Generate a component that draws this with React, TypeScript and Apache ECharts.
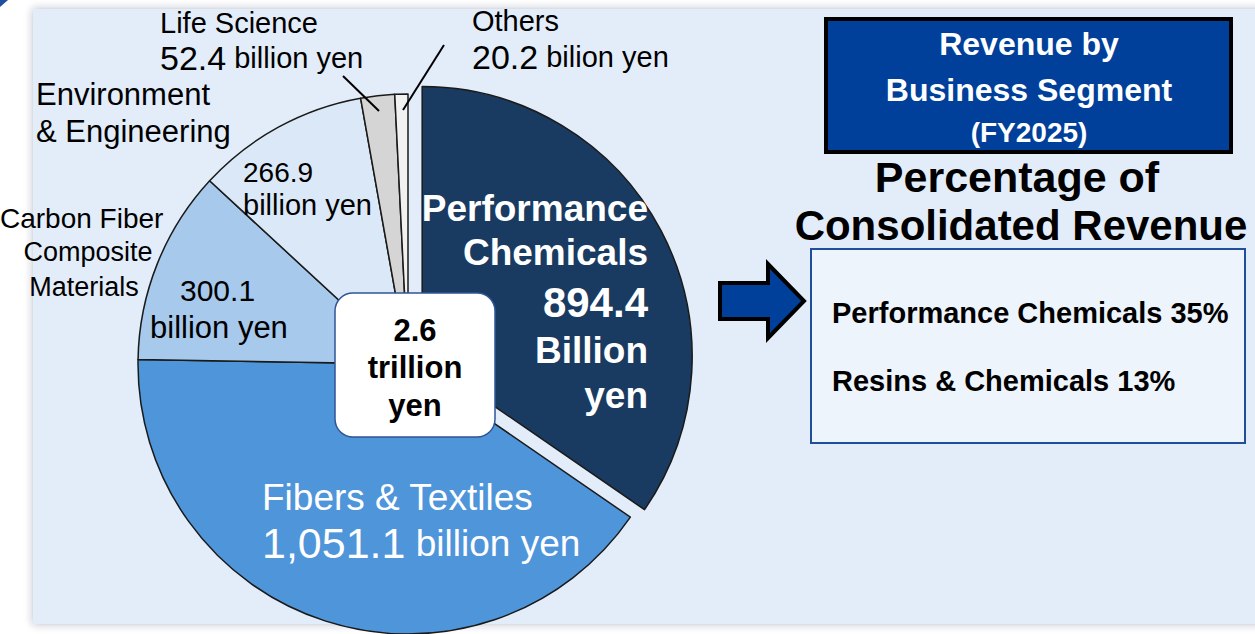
import React, { useEffect, useRef } from "react";
import * as echarts from "echarts";

const segments = [
  "Performance Chemicals",
  "Fibers & Textiles",
  "Carbon Fiber Composite Materials",
  "Environment & Engineering",
  "Life Science",
  "Others",
];
const revenues = [894.4, 1051.1, 300.1, 266.9, 52.4, 20.2];
const sliceColors = ["#193b62", "#4f95da", "#a7c9eb", "#dbe8f7", "#d5d5d5", "#f1f1f1"];
const shareNames = ["Performance Chemicals", "Resins & Chemicals"];
const shareValues = [35, 13];
const fiscalYear = "FY2025";

const FONT = "'Liberation Sans', Arial, Helvetica, sans-serif";

function fmt(v: number) {
  return v.toLocaleString("en-US", { minimumFractionDigits: 1, maximumFractionDigits: 1 });
}

function txt(text: string, x: number, y: number, size: number, opts: any = {}) {
  return {
    type: "text",
    z: 20,
    x,
    y,
    style: {
      text,
      fontSize: size,
      fontFamily: FONT,
      fontWeight: opts.bold ? "bold" : "normal",
      fill: opts.color || "#000",
      textAlign: opts.align || "left",
      textVerticalAlign: "middle",
      rich: opts.rich,
    },
  };
}

export default function App() {
  const ref = useRef<HTMLDivElement>(null);
  useEffect(() => {
    document.body.style.margin = "0";
    const chart = echarts.init(ref.current!, undefined, { renderer: "svg" });
    const total = revenues.reduce((a, b) => a + b, 0);
    const graphic: any[] = [
      {
        type: "rect",
        z: 0,
        shape: { x: 33, y: 9, width: 1240, height: 615 },
        style: { fill: "#e3edfa", shadowBlur: 8, shadowColor: "rgba(40,50,90,0.35)" },
      },
      { type: "polygon", z: 1, shape: { points: [[0, 0], [8, 0], [0, 7]] }, style: { fill: "#1f4fa0" } },
      // leader lines
      { type: "line", z: 20, shape: { x1: 343, y1: 76, x2: 379, y2: 111 }, style: { stroke: "#000", lineWidth: 2 } },
      { type: "line", z: 20, shape: { x1: 444, y1: 45, x2: 403, y2: 110 }, style: { stroke: "#000", lineWidth: 2 } },
      // outside labels
      txt(segments[4], 160, 23, 29),
      txt(`{n|${fmt(revenues[4])}} billion yen`, 160, 58, 29, { rich: { n: { fontSize: 34, fontFamily: FONT } } }),
      txt(segments[5], 472, 21, 29),
      txt(`{n|${fmt(revenues[5])}} bilion yen`, 472, 57, 29, { rich: { n: { fontSize: 34, fontFamily: FONT } } }),
      txt("Environment", 36, 94, 31),
      txt("& Engineering", 36, 131, 31),
      txt(fmt(revenues[3]), 243, 172, 28),
      txt("billion yen", 243, 205, 29),
      txt("Carbon Fiber", 0, 218, 28),
      txt("Composite", 88, 252, 27, { align: "center" }),
      txt("Materials", 84, 287, 27, { align: "center" }),
      txt(fmt(revenues[2]), 180, 290, 30),
      txt("billion yen", 150, 327, 31),
      // performance chemicals
      txt("Performance", 648, 208, 37, { bold: true, color: "#fff", align: "right" }),
      txt("Chemicals", 648, 252, 37, { bold: true, color: "#fff", align: "right" }),
      txt(fmt(revenues[0]), 648, 302, 42, { bold: true, color: "#fff", align: "right" }),
      txt("Billion", 648, 350, 37, { bold: true, color: "#fff", align: "right" }),
      txt("yen", 648, 395, 37, { bold: true, color: "#fff", align: "right" }),
      // fibers
      txt(segments[1], 262, 497, 37, { color: "#fff" }),
      txt(`{n|${fmt(revenues[1])}} billion yen`, 262, 543, 37, {
        color: "#fff",
        rich: { n: { fontSize: 43, fontFamily: FONT, color: "#fff" } },
      }),
      // center box
      {
        type: "rect",
        z: 20,
        shape: { x: 335, y: 293, width: 160, height: 144, r: 18 },
        style: { fill: "#fff", stroke: "#2f5597", lineWidth: 1.5 },
      },
      txt((total / 1000).toFixed(1), 415, 330, 31, { bold: true, align: "center" }),
      txt("trillion", 415, 367, 31, { bold: true, align: "center" }),
      txt("yen", 415, 405, 31, { bold: true, align: "center" }),
      // title box
      {
        type: "rect",
        z: 20,
        shape: { x: 826, y: 19, width: 405, height: 133 },
        style: { fill: "#00409a", stroke: "#000", lineWidth: 4 },
      },
      txt("Revenue by", 1029, 44, 32, { bold: true, color: "#fff", align: "center" }),
      txt("Business Segment", 1029, 90, 32, { bold: true, color: "#fff", align: "center" }),
      txt(`(${fiscalYear})`, 1029, 132, 28, { bold: true, color: "#fff", align: "center" }),
      txt("Percentage of", 1017, 177, 43, { bold: true, align: "center" }),
      txt("Consolidated Revenue", 1021, 225, 42, { bold: true, align: "center" }),
      // share box
      {
        type: "rect",
        z: 20,
        shape: { x: 811, y: 249, width: 434, height: 194 },
        style: { fill: "#eef4fc", stroke: "#1f4e9a", lineWidth: 2 },
      },
      txt(`${shareNames[0]} ${shareValues[0]}%`, 832, 313, 29, { bold: true }),
      txt(`${shareNames[1]} ${shareValues[1]}%`, 832, 381, 29, { bold: true }),
      // arrow
      {
        type: "polygon",
        z: 20,
        shape: {
          points: [
            [720, 283],
            [768, 283],
            [768, 264],
            [804, 301],
            [768, 338],
            [768, 319],
            [720, 319],
          ],
        },
        style: { fill: "#00409a", stroke: "#000", lineWidth: 4, lineJoin: "miter" },
      },
    ];

    chart.setOption({
      animation: false,
      backgroundColor: "#fff",
      graphic,
      series: [
        {
          type: "pie",
          z: 5,
          center: [408, 364],
          radius: 270,
          startAngle: 90,
          clockwise: true,
          selectedMode: "single",
          selectedOffset: 16,
          label: { show: false },
          labelLine: { show: false },
          emphasis: { disabled: true },
          itemStyle: { borderColor: "#1a1a1a", borderWidth: 1.5 },
          data: segments.map((name, i) => ({
            name,
            value: revenues[i],
            selected: i === 0,
            itemStyle: { color: sliceColors[i] },
          })),
        },
      ],
    });
    return () => chart.dispose();
  }, []);
  return <div ref={ref} style={{ width: 1255, height: 634 }} />;
}
